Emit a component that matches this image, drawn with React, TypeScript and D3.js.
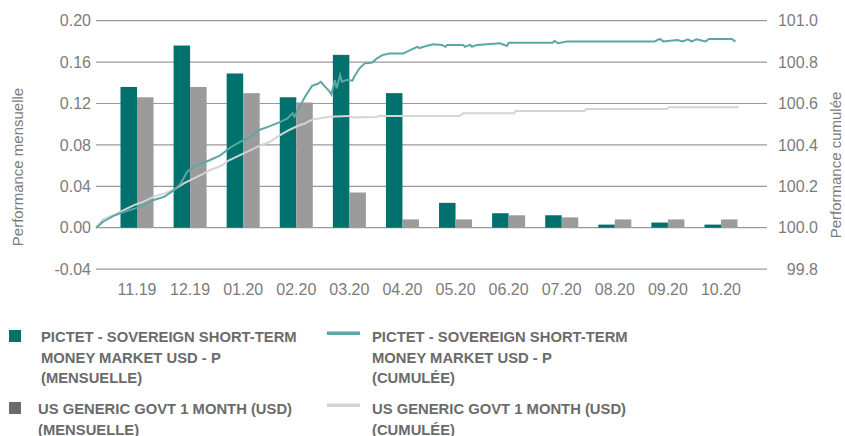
import React, { useEffect, useRef } from "react";
import * as d3 from "d3";

// monthly performance (bars, left axis)
const months = ["11.19", "12.19", "01.20", "02.20", "03.20", "04.20", "05.20", "06.20", "07.20", "08.20", "09.20", "10.20"];
const fundMonthly = [0.136, 0.176, 0.149, 0.126, 0.167, 0.13, 0.024, 0.014, 0.012, 0.003, 0.005, 0.003];
const benchMonthly = [0.126, 0.136, 0.13, 0.121, 0.034, 0.008, 0.008, 0.012, 0.01, 0.008, 0.008, 0.008];

const leftTicks = [-0.04, 0, 0.04, 0.08, 0.12, 0.16, 0.2];
const rightTicks = [99.8, 100, 100.2, 100.4, 100.6, 100.8, 101];

// cumulative performance (lines, right axis)
const fundDates = [
  "2019-10-31", "2019-11-02", "2019-11-04", "2019-11-10", "2019-11-16", "2019-11-22", "2019-11-27", "2019-12-03",
  "2019-12-09", "2019-12-14", "2019-12-18", "2019-12-22", "2019-12-26", "2019-12-31", "2020-01-04", "2020-01-10",
  "2020-01-15", "2020-01-21", "2020-01-27", "2020-02-01", "2020-02-07", "2020-02-13", "2020-02-17", "2020-02-20",
  "2020-02-21", "2020-02-23", "2020-02-27", "2020-03-02", "2020-03-05", "2020-03-07", "2020-03-09", "2020-03-12",
  "2020-03-13", "2020-03-15", "2020-03-16", "2020-03-18", "2020-03-19", "2020-03-22", "2020-03-25", "2020-03-26",
  "2020-03-29", "2020-04-01", "2020-04-05", "2020-04-08", "2020-04-11", "2020-04-15", "2020-04-23", "2020-04-26",
  "2020-05-01", "2020-05-02", "2020-05-06", "2020-05-10", "2020-05-15", "2020-05-17", "2020-05-18", "2020-05-27",
  "2020-05-28", "2020-05-31", "2020-06-01", "2020-06-04", "2020-06-17", "2020-06-21", "2020-06-22", "2020-07-17",
  "2020-07-18", "2020-07-20", "2020-07-25", "2020-09-13", "2020-09-16", "2020-09-18", "2020-09-26", "2020-09-29",
  "2020-10-02", "2020-10-04", "2020-10-07", "2020-10-12", "2020-10-14", "2020-10-27", "2020-10-29",
];
const fundCumul = [
  100.0, 100.013, 100.029, 100.057, 100.077, 100.092, 100.11, 100.134,
  100.15, 100.179, 100.211, 100.271, 100.298, 100.313, 100.327, 100.351,
  100.385, 100.415, 100.44, 100.472, 100.491, 100.511, 100.528, 100.553,
  100.536, 100.569, 100.633, 100.685, 100.694, 100.705, 100.685, 100.657,
  100.644, 100.714, 100.673, 100.738, 100.705, 100.714, 100.71, 100.729,
  100.77, 100.794, 100.797, 100.818, 100.834, 100.842, 100.842, 100.854,
  100.874, 100.867, 100.878, 100.886, 100.883, 100.874, 100.883, 100.883,
  100.874, 100.883, 100.874, 100.883, 100.891, 100.878, 100.894, 100.894,
  100.903, 100.891, 100.9, 100.9, 100.912, 100.9, 100.907, 100.9,
  100.91, 100.9, 100.91, 100.9, 100.912, 100.912, 100.899,
];

const benchDates = [
  "2019-10-31", "2019-11-04", "2019-11-10", "2019-11-16", "2019-11-22", "2019-11-27", "2019-12-03", "2019-12-09",
  "2019-12-14", "2019-12-20", "2019-12-26", "2019-12-31", "2020-01-04", "2020-01-10", "2020-01-15", "2020-01-21",
  "2020-01-27", "2020-02-01", "2020-02-07", "2020-02-13", "2020-02-18", "2020-02-24", "2020-02-27", "2020-02-29",
  "2020-03-03", "2020-03-06", "2020-03-12", "2020-03-23", "2020-03-25", "2020-04-08", "2020-04-09", "2020-05-25",
  "2020-05-27", "2020-06-25", "2020-06-26", "2020-08-04", "2020-08-05", "2020-09-20", "2020-09-21", "2020-10-31",
];
const benchCumul = [
  100.0, 100.041, 100.061, 100.086, 100.11, 100.126, 100.15, 100.166,
  100.182, 100.214, 100.239, 100.26, 100.279, 100.298, 100.327, 100.351,
  100.375, 100.395, 100.415, 100.448, 100.472, 100.496, 100.503, 100.513,
  100.524, 100.528, 100.536, 100.54, 100.532, 100.535, 100.54, 100.54,
  100.553, 100.553, 100.564, 100.564, 100.573, 100.573, 100.582, 100.582,
];

const legendLabels = [
  ["PICTET - SOVEREIGN SHORT-TERM", "MONEY MARKET USD - P", "(MENSUELLE)"],
  ["PICTET - SOVEREIGN SHORT-TERM", "MONEY MARKET USD - P", "(CUMULÉE)"],
  ["US GENERIC GOVT 1 MONTH (USD)", "(MENSUELLE)"],
  ["US GENERIC GOVT 1 MONTH (USD)", "(CUMULÉE)"],
];

const TEAL = "#00716d";
const TEAL_LINE = "#5ba7a3";
const GREY_BAR = "#9b9b9b";
const GREY_LEG = "#6b6b6b";
const GREY_LINE = "#d4d4d4";
const GRID = "#9a9a9a";
const TICK = "#7c7c7c";

const width = 845;
const height = 436;

const App: React.FC = () => {
  const svgRef = useRef<SVGSVGElement | null>(null);

  useEffect(() => {
    if (!svgRef.current) return;
    const svg = d3.select(svgRef.current);
    svg.selectAll("*").remove();

    const plotLeft = 96;
    const plotRight = 767;

    const yL = d3.scaleLinear().domain([-0.04, 0.2]).range([269.1, 20.7]);
    const yR = d3.scaleLinear().domain([99.8, 101]).range([269.1, 20.7]);

    const x = d3.scaleBand().domain(months).range([120.5, 737.5]).paddingInner(0.378).paddingOuter(0);
    const half = x.bandwidth() / 2;

    const parse = d3.timeParse("%Y-%m-%d");
    const xt = d3
      .scaleTime()
      .domain([parse("2019-10-31")!, parse("2020-11-16")!])
      .range([plotLeft, plotRight]);

    // grid
    svg
      .append("g")
      .selectAll("line")
      .data(leftTicks)
      .enter()
      .append("line")
      .attr("x1", plotLeft)
      .attr("x2", plotRight)
      .attr("y1", (d) => yL(d))
      .attr("y2", (d) => yL(d))
      .attr("stroke", GRID)
      .attr("stroke-width", 1.2);

    // left ticks
    svg
      .append("g")
      .selectAll("text")
      .data(leftTicks)
      .enter()
      .append("text")
      .attr("x", 91)
      .attr("y", (d) => yL(d))
      .attr("dy", "0.36em")
      .attr("text-anchor", "end")
      .attr("fill", TICK)
      .style("font-size", "16px")
      .text((d) => d3.format(".2f")(d).replace("\u2212", "-"));

    // right ticks
    svg
      .append("g")
      .selectAll("text")
      .data(rightTicks)
      .enter()
      .append("text")
      .attr("x", 818)
      .attr("y", (d) => yR(d))
      .attr("dy", "0.36em")
      .attr("text-anchor", "end")
      .attr("fill", TICK)
      .style("font-size", "16px")
      .text((d) => d3.format(".1f")(d));

    // month labels
    svg
      .append("g")
      .selectAll("text")
      .data(months)
      .enter()
      .append("text")
      .attr("x", (d) => x(d)! + half)
      .attr("y", 295)
      .attr("text-anchor", "middle")
      .attr("fill", TICK)
      .style("font-size", "16px")
      .text((d) => d);

    // axis titles
    svg
      .append("text")
      .attr("transform", "translate(18,167) rotate(-90)")
      .attr("text-anchor", "middle")
      .attr("dy", "0.35em")
      .attr("fill", TICK)
      .style("font-size", "15px")
      .text("Performance mensuelle");
    svg
      .append("text")
      .attr("transform", "translate(836,165) rotate(-90)")
      .attr("text-anchor", "middle")
      .attr("dy", "0.35em")
      .attr("fill", TICK)
      .style("font-size", "15px")
      .text("Performance cumulée");

    // bars
    const bars = svg.append("g");
    bars
      .selectAll(".fund")
      .data(months)
      .enter()
      .append("rect")
      .attr("x", (d) => x(d)!)
      .attr("y", (_, i) => yL(fundMonthly[i]))
      .attr("width", half)
      .attr("height", (_, i) => yL(0) - yL(fundMonthly[i]))
      .attr("fill", TEAL);
    bars
      .selectAll(".bench")
      .data(months)
      .enter()
      .append("rect")
      .attr("x", (d) => x(d)! + half)
      .attr("y", (_, i) => yL(benchMonthly[i]))
      .attr("width", half)
      .attr("height", (_, i) => yL(0) - yL(benchMonthly[i]))
      .attr("fill", GREY_BAR);

    // cumulative lines
    const line = d3
      .line<[string, number]>()
      .x((d) => xt(parse(d[0])!))
      .y((d) => yR(d[1]));

    svg
      .append("path")
      .datum(benchDates.map((d, i) => [d, benchCumul[i]] as [string, number]))
      .attr("d", line)
      .attr("fill", "none")
      .attr("stroke", GREY_LINE)
      .attr("stroke-width", 2);
    svg
      .append("path")
      .datum(fundDates.map((d, i) => [d, fundCumul[i]] as [string, number]))
      .attr("d", line)
      .attr("fill", "none")
      .attr("stroke", TEAL_LINE)
      .attr("stroke-width", 2);

    // legend
    const legPos = [
      { x: 9, y: 330, tx: 41 },
      { x: 327, y: 330, tx: 372 },
      { x: 9, y: 402, tx: 38 },
      { x: 327, y: 402, tx: 372 },
    ];
    const legend = svg.append("g");
    legPos.forEach((p, i) => {
      if (i % 2 === 0) {
        legend
          .append("rect")
          .attr("x", p.x)
          .attr("y", p.y)
          .attr("width", 12)
          .attr("height", 12)
          .attr("fill", i === 0 ? TEAL : GREY_LEG);
      } else {
        legend
          .append("rect")
          .attr("x", p.x)
          .attr("y", p.y + 1.5)
          .attr("width", 33)
          .attr("height", 3.5)
          .attr("fill", i === 1 ? TEAL_LINE : GREY_LINE);
      }
      const t = legend
        .append("text")
        .attr("fill", GREY_LEG)
        .style("font-family", "'Liberation Sans', Arial, sans-serif")
        .style("font-weight", "bold")
        .style("font-size", "14.8px");
      legendLabels[i].forEach((s, j) => {
        t.append("tspan")
          .attr("x", p.tx)
          .attr("y", p.y + 12 + j * 20.5)
          .text(s);
      });
    });
  }, []);

  return (
    <svg
      ref={svgRef}
      width={width}
      height={height}
      style={{ position: "absolute", left: 0, top: 0, fontFamily: "'Liberation Sans', Arial, sans-serif", background: "#fff" }}
    ></svg>
  );
};

export default App;
